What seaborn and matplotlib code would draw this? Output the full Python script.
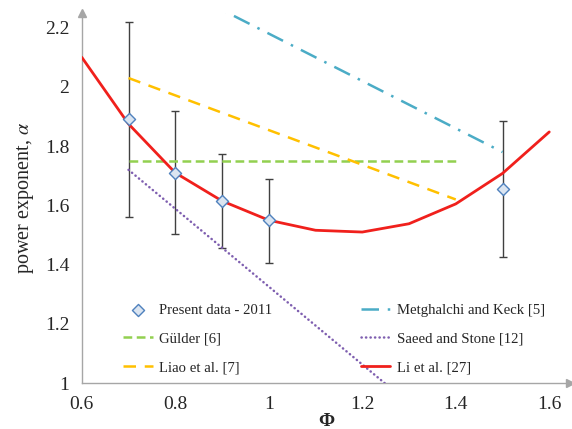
import numpy as np
import pandas as pd
from matplotlib import pyplot as plt
import seaborn as sns

# measured data (present study) with error bars
phi_data = [0.7, 0.8, 0.9, 1.0, 1.5]
alpha_data = [1.89, 1.71, 1.615, 1.55, 1.655]
alpha_low = [1.56, 1.505, 1.455, 1.405, 1.425]
alpha_high = [2.22, 1.92, 1.775, 1.69, 1.885]

# correlations from literature
phi_metghalchi = [0.7, 1.0, 1.5]
alpha_metghalchi = [2.42, 2.18, 1.78]
phi_gulder = [0.7, 1.4]
alpha_gulder = [1.75, 1.75]
phi_saeed = [0.7, 1.4]
alpha_saeed = [1.72, 0.80]
phi_liao = [0.7, 1.4]
alpha_liao = [2.03, 1.62]
phi_li = [0.6, 0.7, 0.8, 0.9, 1.0, 1.1, 1.2, 1.3, 1.4, 1.5, 1.6]
alpha_li = [2.10, 1.875, 1.71, 1.615, 1.55, 1.516, 1.51, 1.538, 1.605, 1.708, 1.848]

sns.set_style('white')
plt.rcParams['font.family'] = ['Liberation Serif', 'DejaVu Serif']
plt.rcParams['mathtext.fontset'] = 'stix'

fig = plt.figure(figsize=(5.72, 4.29), dpi=100)
ax = fig.add_axes([0.143, 0.107, 0.854, 0.863])

grey = '#a6a6a6'

ax.errorbar(phi_data, alpha_data,
            yerr=[np.array(alpha_data) - np.array(alpha_low), np.array(alpha_high) - np.array(alpha_data)],
            fmt='none', ecolor='#404040', elinewidth=1.0, capsize=3, capthick=1.0, zorder=2)

sns.lineplot(x=phi_gulder, y=alpha_gulder, ax=ax, color='#92d050', lw=1.8,
             label='Gülder [6]', zorder=3).lines[-1].set_dashes([3.5, 1.8])
sns.lineplot(x=phi_liao, y=alpha_liao, ax=ax, color='#ffc000', lw=1.8,
             label='Liao et al. [7]', zorder=3).lines[-1].set_dashes([5, 3.5])
sns.lineplot(x=phi_metghalchi, y=alpha_metghalchi, ax=ax, color='#4bacc6', lw=1.8,
             label='Metghalchi and Keck [5]', zorder=3).lines[-1].set_dashes([7, 3.5, 1, 3.5])
l = sns.lineplot(x=phi_saeed, y=alpha_saeed, ax=ax, color='#7f5fb0', lw=1.8,
                 label='Saeed and Stone [12]', zorder=3).lines[-1]
l.set_dashes([0.1, 1.7])
l.set_dash_capstyle('round')
sns.lineplot(x=phi_li, y=alpha_li, ax=ax, color='#f0201c', lw=2.0,
             label='Li et al. [27]', zorder=4)
sns.scatterplot(x=phi_data, y=alpha_data, ax=ax, marker='D', s=38,
                color='#dbe5f1', edgecolor='#4f81bd', linewidth=1.0,
                label='Present data - 2011', zorder=5)

ax.set_xlim(0.6, 1.645)
ax.set_ylim(1.0, 2.25)
ax.set_xticks([0.6, 0.8, 1.0, 1.2, 1.4, 1.6])
ax.set_xticklabels(['0.6', '0.8', '1', '1.2', '1.4', '1.6'])
ax.set_yticks([1.0, 1.2, 1.4, 1.6, 1.8, 2.0, 2.2])
ax.set_yticklabels(['1', '1.2', '1.4', '1.6', '1.8', '2', '2.2'])
ax.tick_params(axis='x', direction='in', length=5, color=grey, labelsize=14, pad=9)
ax.tick_params(axis='y', direction='out', length=5, color=grey, labelsize=14, pad=4)

for s in ['top', 'right']:
    ax.spines[s].set_visible(False)
for s in ['left', 'bottom']:
    ax.spines[s].set_color(grey)
    ax.spines[s].set_linewidth(1.0)
ax.plot(1, 0, '>', color=grey, ms=6, transform=ax.transAxes, clip_on=False)
ax.plot(0, 1, '^', color=grey, ms=6, transform=ax.transAxes, clip_on=False)

ax.set_xlabel('Φ', fontsize=14, fontweight='bold', labelpad=0)
ax.set_ylabel('power exponent, $\\alpha$', fontsize=14.5, labelpad=6)

h, lab = ax.get_legend_handles_labels()
order = ['Present data - 2011', 'Gülder [6]', 'Liao et al. [7]',
         'Metghalchi and Keck [5]', 'Saeed and Stone [12]', 'Li et al. [27]']
hd = dict(zip(lab, h))
ax.legend([hd[k] for k in order], order, ncol=2, frameon=False, fontsize=10.6,
          loc='lower left', bbox_to_anchor=(0.058, -0.012), handlelength=2.0,
          handletextpad=0.45, labelspacing=1.05, columnspacing=6.0)

plt.savefig('out.png', dpi=100)
